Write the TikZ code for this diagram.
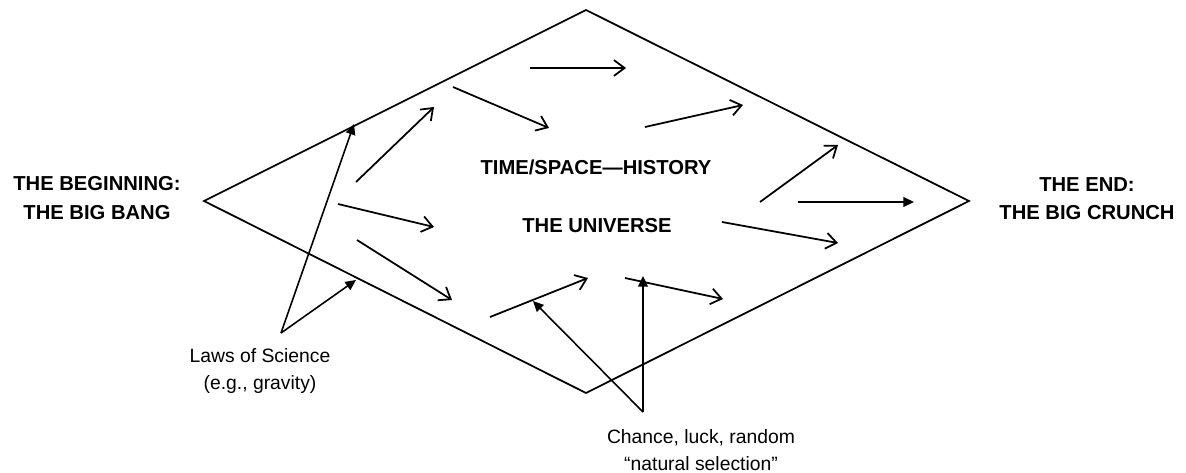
\documentclass[tikz,border=0pt]{standalone}
\usepackage{fontspec}
\setmainfont{Liberation Sans}
\usetikzlibrary{arrows.meta}

\begin{document}
\begin{tikzpicture}[x=0.02cm, y=-0.02cm,
		big/.style  = {font=\fontsize{11.5}{16}\selectfont\bfseries, align=center, inner sep=0pt},
		note/.style = {font=\fontsize{11}{15}\selectfont, align=center, inner sep=0pt},
		rim/.style  = {line width=1pt, line join=miter},
		f/.style    = {-{Straight Barb[length=6pt, width=9pt]}, line width=1pt},
		p/.style    = {-{Triangle[length=6pt, width=5.5pt]}, line width=0.9pt}
		]
		\useasboundingbox (0,0) rectangle (1186,473);
		
		% === === Nodes === ===
		\coordinate	(left)	at	(204, 201);
		\coordinate	(top)	at	(586, 10);
		\coordinate	(right)	at	(969, 201);
		\coordinate	(bot)	at	(586, 393);
		
		\node[big]	(begin)		at	(97, 198)		{THE BEGINNING:\\THE BIG BANG};
		\node[big]	(end)		at	(1087, 199)		{THE END:\\THE BIG CRUNCH};
		\node[big]	(time)		at	(596, 167)		{TIME/SPACE---HISTORY};
		\node[big]	(univ)		at	(597, 226)		{THE UNIVERSE};
		\node[note]	(laws)		at	(260, 371)		{Laws of Science\\(e.g., gravity)};
		\node[note]	(chance)	at	(701, 450)		{Chance, luck, random\\``natural selection''};
		
		\coordinate	(lawsApex)		at	(281, 333);
		\coordinate	(lawsHi)		at	(354, 124);
		\coordinate	(lawsLo)		at	(356, 280);
		\coordinate	(chanceApex)	at	(643, 412);
		\coordinate	(chanceL)		at	(533, 301);
		\coordinate	(chanceU)		at	(643, 276);
		
		% flow arrows
		\coordinate	(a1s)	at	(530, 68);	\coordinate	(a1e)	at	(626, 68);
		\coordinate	(a2s)	at	(453, 87);	\coordinate	(a2e)	at	(549, 128);
		\coordinate	(a3s)	at	(356, 182);	\coordinate	(a3e)	at	(434, 107);
		\coordinate	(a4s)	at	(645, 127);	\coordinate	(a4e)	at	(743, 105);
		\coordinate	(a5s)	at	(338, 204);	\coordinate	(a5e)	at	(434, 227);
		\coordinate	(a6s)	at	(760, 202);	\coordinate	(a6e)	at	(838, 145);
		\coordinate	(a7s)	at	(798, 202);	\coordinate	(a7e)	at	(914, 202);
		\coordinate	(a8s)	at	(722, 222);	\coordinate	(a8e)	at	(838, 243);
		\coordinate	(a9s)	at	(357, 240);	\coordinate	(a9e)	at	(452, 300);
		\coordinate	(a10s)	at	(490, 317);	\coordinate	(a10e)	at	(588, 278);
		\coordinate	(a11s)	at	(625, 278);	\coordinate	(a11e)	at	(723, 299);
		
		% === === Lines === ===
		\draw[rim]	(left) -- (top) -- (right) -- (bot) -- cycle;
		
		\draw[f]	(a1s)	to	(a1e);
		\draw[f]	(a2s)	to	(a2e);
		\draw[f]	(a3s)	to	(a3e);
		\draw[f]	(a4s)	to	(a4e);
		\draw[f]	(a5s)	to	(a5e);
		\draw[f]	(a6s)	to	(a6e);
		\draw[p]	(a7s)	to	(a7e);
		\draw[f]	(a8s)	to	(a8e);
		\draw[f]	(a9s)	to	(a9e);
		\draw[f]	(a10s)	to	(a10e);
		\draw[f]	(a11s)	to	(a11e);
		
		\draw[p]	(lawsApex)		to	(lawsHi);
		\draw[p]	(lawsApex)		to	(lawsLo);
		\draw[p]	(chanceApex)	to	(chanceL);
		\draw[p]	(chanceApex)	to	(chanceU);
		
	\end{tikzpicture}
\end{document}
